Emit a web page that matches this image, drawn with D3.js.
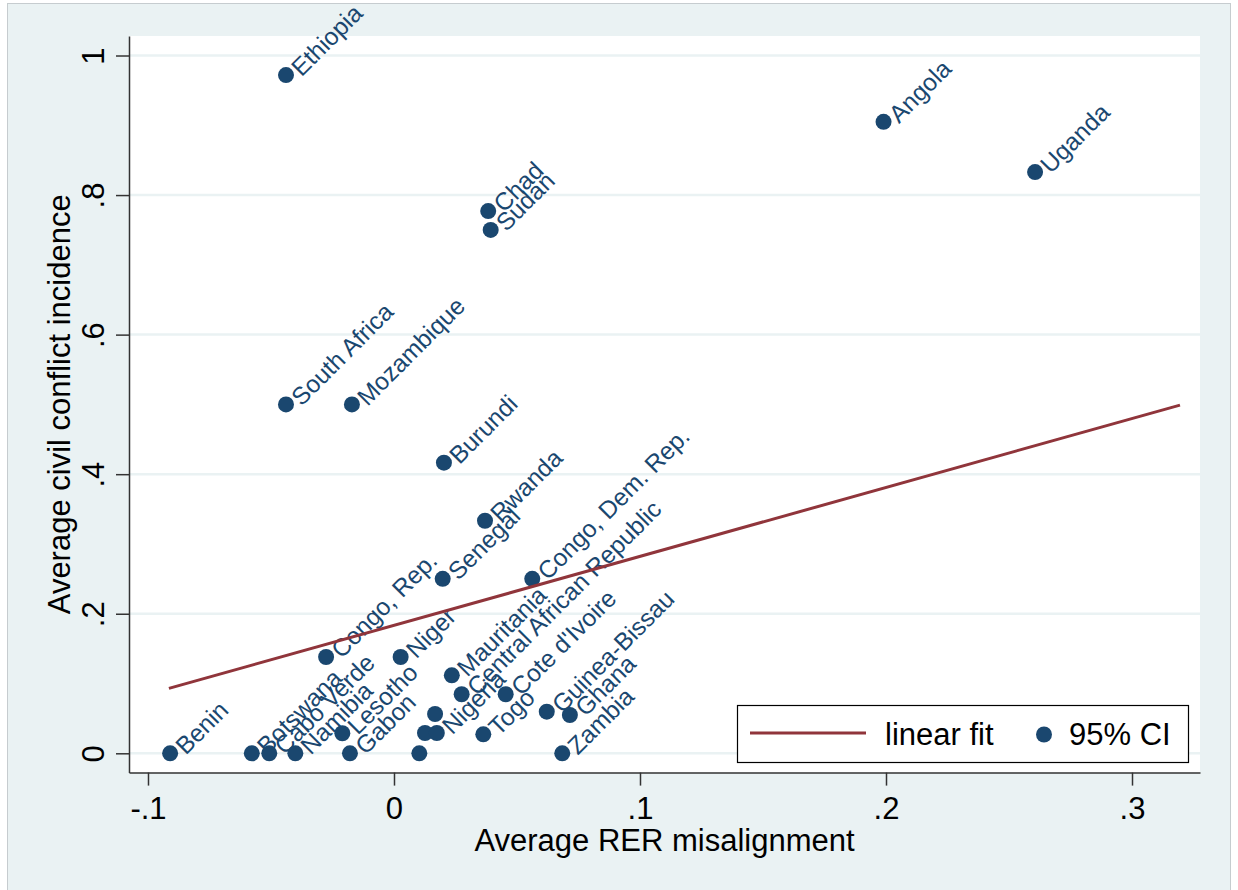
<!DOCTYPE html>
<html>
<head>
<meta charset="utf-8">
<script src="https://cdnjs.cloudflare.com/ajax/libs/d3/7.8.5/d3.min.js"></script>
<style>
  body { margin: 0; background: #fff; }
  svg { display: block; font-family: "Liberation Sans", Arial, sans-serif; }
</style>
</head>
<body>
<div id="chart"></div>
<script>
// country labels ("" = point drawn without a label)
var countries = ["Ethiopia", "Angola", "Uganda", "Chad", "Sudan", "South Africa", "Mozambique",
  "Burundi", "Rwanda", "Senegal", "Congo, Dem. Rep.", "Congo, Rep.", "Niger", "Benin",
  "Botswana", "Cabo Verde", "Namibia", "Lesotho", "Gabon", "", "", "", "Nigeria",
  "Mauritania", "Central African Republic", "Cote d'Ivoire", "Togo", "Guinea-Bissau",
  "Ghana", "Zambia"];
var rerMisalign = [-0.0439, 0.199, 0.2606, 0.0383, 0.0393, -0.0439, -0.0171,
  0.0203, 0.037, 0.0198, 0.0562, -0.0276, 0.0027, -0.091,
  -0.0578, -0.0507, -0.0401, -0.021, -0.0179, 0.0103, 0.0167, 0.0126, 0.0174,
  0.0235, 0.0275, 0.0454, 0.0363, 0.0621,
  0.0715, 0.0684];
var conflict = [0.972, 0.905, 0.833, 0.777, 0.75, 0.5, 0.5,
  0.4165, 0.3333, 0.25, 0.25, 0.138, 0.138, 0,
  0, 0, 0, 0.0287, 0, 0, 0.0563, 0.0291, 0.0291,
  0.1118, 0.0846, 0.0846, 0.0272, 0.0596,
  0.0549, 0];

// linear fit end points
var fitX = [-0.0915, 0.3195];
var fitY = [0.093, 0.499];

var xTicks = [-0.1, 0, 0.1, 0.2, 0.3];
var xTickLabels = ["-.1", "0", ".1", ".2", ".3"];
var yTicks = [0, 0.2, 0.4, 0.6, 0.8, 1];
var yTickLabels = ["0", ".2", ".4", ".6", ".8", "1"];

var W = 1238, H = 890;
var plot = {left: 129, right: 1200, top: 36, bottom: 772.6};
var navy = "#1a476f", maroon = "#90353b";

var svg = d3.select("#chart").append("svg").attr("width", W).attr("height", H);

// graph region
svg.append("rect").attr("x", 7.5).attr("y", 3.5).attr("width", 1223).attr("height", 900)
  .attr("fill", "#eaf2f3").attr("stroke", "#c6cccf").attr("stroke-width", 1);
svg.append("rect").attr("x", plot.left).attr("y", plot.top)
  .attr("width", plot.right - plot.left).attr("height", plot.bottom - plot.top)
  .attr("fill", "#fff");

var x = d3.scaleLinear().domain([-0.10772, 0.32764]).range([plot.left, plot.right]);
var y = d3.scaleLinear().domain([-0.02766, 1.02795]).range([plot.bottom, plot.top]);

// gridlines
svg.append("g").selectAll("line").data(yTicks).enter().append("line")
  .attr("x1", plot.left).attr("x2", plot.right)
  .attr("y1", function(d){ return y(d); }).attr("y2", function(d){ return y(d); })
  .attr("stroke", "#eaf2f3").attr("stroke-width", 2.5);

// points
var pts = countries.map(function(c, i){ return {name: c, x: rerMisalign[i], y: conflict[i]}; });

svg.append("g").selectAll("circle").data(pts).enter().append("circle")
  .attr("cx", function(d){ return x(d.x); })
  .attr("cy", function(d){ return y(d.y); })
  .attr("r", 8)
  .attr("fill", navy);

// labels at 45 degrees, baseline starting just right of the marker
svg.append("g").selectAll("text").data(pts).enter().append("text")
  .attr("transform", function(d){ return "translate(" + (x(d.x) + 15.5) + "," + (y(d.y) + 2.5) + ") rotate(-45)"; })
  .attr("font-size", 24.5)
  .attr("fill", navy)
  .text(function(d){ return d.name; });

// fit line drawn on top
svg.append("line")
  .attr("x1", x(fitX[0])).attr("y1", y(fitY[0]))
  .attr("x2", x(fitX[1])).attr("y2", y(fitY[1]))
  .attr("stroke", maroon).attr("stroke-width", 3);

// axes
var xAxis = d3.axisBottom(x).tickValues(xTicks).tickSize(13).tickSizeOuter(0)
  .tickFormat(function(d, i){ return xTickLabels[i]; });
var gx = svg.append("g").attr("transform", "translate(0," + plot.bottom + ")").call(xAxis);
gx.select(".domain").attr("stroke", "#333").attr("stroke-width", 1.5);
gx.selectAll(".tick line").attr("stroke", "#333").attr("stroke-width", 1.5);
gx.selectAll(".tick text").attr("font-size", 31).attr("fill", "#000")
  .attr("dy", 0).attr("y", 46)
  .attr("font-family", "Liberation Sans, Arial, sans-serif");

var yAxis = d3.axisLeft(y).tickValues(yTicks).tickSize(13).tickSizeOuter(0)
  .tickFormat(function(d, i){ return yTickLabels[i]; });
var gy = svg.append("g").attr("transform", "translate(" + plot.left + ",0)").call(yAxis);
gy.select(".domain").attr("stroke", "#333").attr("stroke-width", 1.5);
gy.selectAll(".tick line").attr("stroke", "#333").attr("stroke-width", 1.5);
gy.selectAll(".tick text").attr("font-size", 31).attr("fill", "#000")
  .attr("transform", "rotate(-90)")
  .attr("x", 0).attr("y", -25).attr("dy", 0)
  .attr("text-anchor", "middle")
  .attr("font-family", "Liberation Sans, Arial, sans-serif");

// axis titles
svg.append("text").attr("x", (plot.left + plot.right) / 2).attr("y", 851)
  .attr("text-anchor", "middle").attr("font-size", 31)
  .text("Average RER misalignment");
svg.append("text")
  .attr("transform", "translate(70," + ((plot.top + plot.bottom) / 2) + ") rotate(-90)")
  .attr("text-anchor", "middle").attr("font-size", 31)
  .text("Average civil conflict incidence");

// legend
var lg = svg.append("g");
lg.append("rect").attr("x", 737.5).attr("y", 705.5).attr("width", 451).attr("height", 57)
  .attr("fill", "#fff").attr("stroke", "#000").attr("stroke-width", 1.2);
lg.append("line").attr("x1", 750).attr("x2", 866).attr("y1", 733).attr("y2", 733)
  .attr("stroke", maroon).attr("stroke-width", 3);
lg.append("text").attr("x", 885).attr("y", 745).attr("font-size", 31).text("linear fit");
lg.append("circle").attr("cx", 1044).attr("cy", 734.5).attr("r", 8).attr("fill", navy);
lg.append("text").attr("x", 1069).attr("y", 745).attr("font-size", 31).text("95% CI");
</script>
</body>
</html>
